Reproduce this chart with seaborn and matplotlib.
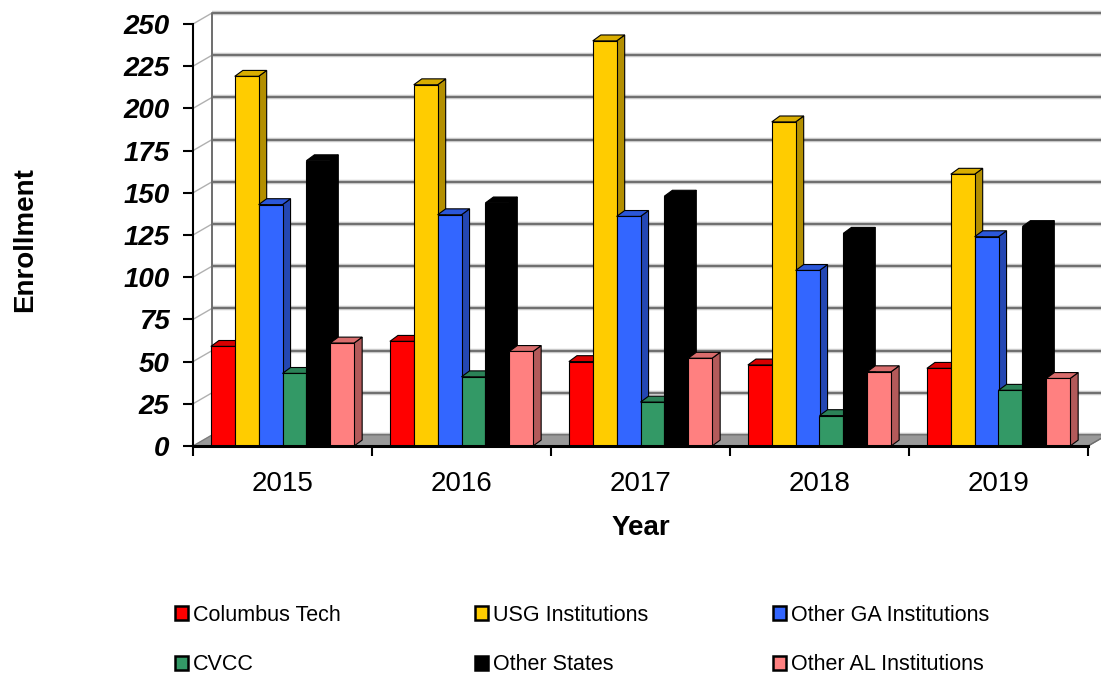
import numpy as np
import pandas as pd
import matplotlib
matplotlib.use('Agg')
import matplotlib.pyplot as plt
from matplotlib.patches import Polygon, Patch
from matplotlib.colors import to_rgb
import seaborn as sns

# Data
years = ['2015', '2016', '2017', '2018', '2019']
institutions = ['Columbus Tech', 'USG Institutions', 'Other GA Institutions',
                'CVCC', 'Other States', 'Other AL Institutions']
columbus_tech = [59, 62, 50, 48, 46]
usg_institutions = [219, 214, 240, 192, 161]
other_ga = [143, 137, 136, 104, 124]
cvcc = [43, 41, 26, 18, 33]
other_states = [169, 144, 148, 126, 130]
other_al = [61, 56, 52, 44, 40]
colors = ['#FF0000', '#FFCC00', '#3366FF', '#339966', '#000000', '#FF8080']
y_ticks = list(range(0, 251, 25))

series = [columbus_tech, usg_institutions, other_ga, cvcc, other_states, other_al]
df = pd.DataFrame({
    'Year': np.repeat([years], len(institutions), axis=0).ravel(),
    'Institution': np.repeat(institutions, len(years)),
    'Enrollment': np.concatenate(series),
})

sns.set_theme(style='white')
plt.rcParams['font.family'] = ['Liberation Sans', 'DejaVu Sans']
plt.rcParams['text.color'] = 'black'
plt.rcParams['xtick.color'] = 'black'
plt.rcParams['ytick.color'] = 'black'
plt.rcParams['axes.labelcolor'] = 'black'

fig = plt.figure(figsize=(11.01, 6.75), dpi=100)
ax = fig.add_axes([193 / 1101, 1 - 446 / 675, 895 / 1101, 422 / 675])

sns.barplot(data=df, x='Year', y='Enrollment', hue='Institution',
            order=years, hue_order=institutions, palette=colors,
            saturation=1, width=0.8, edgecolor='black', linewidth=0.8,
            legend=False, ax=ax)

ax.set_xlim(-0.5, 4.5)
ax.set_ylim(0, 250)

# 3D look: depth offsets (data units)
dx, dy = 0.045, 3.5        # bar depth
wdx, wdy = 0.106, 6.5      # back wall / floor depth

# floor
floor = Polygon([(-0.5, 0), (4.5, 0), (4.5 + wdx, wdy), (-0.5 + wdx, wdy)],
                closed=True, facecolor='#999999', edgecolor='#7a7a7a',
                lw=0.8, zorder=1, clip_on=False)
ax.add_patch(floor)

# back wall gridlines + side wall diagonals
for v in y_ticks:
    ax.plot([-0.5 + wdx, 4.5 + wdx], [v + wdy, v + wdy], color='#c8c8c8',
            lw=3.2, zorder=0.4, clip_on=False, solid_capstyle='butt')
    ax.plot([-0.5 + wdx, 4.5 + wdx], [v + wdy, v + wdy], color='#6e6e6e',
            lw=1.4, zorder=0.5, clip_on=False, solid_capstyle='butt')
    ax.plot([-0.5, -0.5 + wdx], [v, v + wdy], color='#b0b0b0', lw=1.0,
            zorder=0.5, clip_on=False)
ax.plot([-0.5 + wdx, -0.5 + wdx], [wdy, 250 + wdy], color='#6e6e6e', lw=1.4,
        zorder=0.5, clip_on=False)
ax.plot([4.5, 4.5 + wdx], [0, wdy], color='#6e6e6e', lw=1.0, zorder=1.5,
        clip_on=False)

# side and top faces for every bar, stacked left to right
bars = [(p, colors[i]) for i, cont in enumerate(ax.containers) for p in cont]
bars.sort(key=lambda b: b[0].get_x())
for rank, (p, c) in enumerate(bars):
    x0, w, h = p.get_x(), p.get_width(), p.get_height()
    rgb = np.array(to_rgb(c))
    side_c = rgb * 0.7
    top_c = rgb * 0.85
    z = 2 + rank * 0.01
    side = Polygon([(x0 + w, 0), (x0 + w + dx, dy), (x0 + w + dx, h + dy), (x0 + w, h)],
                   closed=True, facecolor=side_c, edgecolor='black', lw=0.8, zorder=z)
    top = Polygon([(x0, h), (x0 + dx, h + dy), (x0 + w + dx, h + dy), (x0 + w, h)],
                  closed=True, facecolor=top_c, edgecolor='black', lw=0.8, zorder=z)
    ax.add_patch(side)
    ax.add_patch(top)
    p.set_zorder(z + 0.005)

# axes styling
sns.despine(ax=ax, top=True, right=True)
ax.spines['left'].set_color('black')
ax.spines['left'].set_linewidth(1.5)
ax.spines['bottom'].set_color('black')
ax.spines['bottom'].set_linewidth(2.2)
ax.spines['left'].set_zorder(5)
ax.spines['bottom'].set_zorder(5)

ax.set_yticks(y_ticks)
ax.set_yticklabels([str(t) for t in y_ticks], fontsize=20, fontweight='bold',
                   fontstyle='italic')
ax.tick_params(axis='y', direction='out', length=7, width=1.5, color='black',
               left=True, pad=10)
ax.set_xticks(range(len(years)))
ax.set_xticklabels(years, fontsize=20)
ax.set_xticks(np.arange(-0.5, 5, 1), minor=True)
ax.tick_params(axis='x', which='major', length=0, pad=18)
ax.tick_params(axis='x', which='minor', direction='out', length=7, width=1.5,
               color='black', bottom=True)
ax.set_xlabel('')
ax.set_ylabel('')
ax.grid(False)

fig.text(641 / 1101, 1 - 528 / 675, 'Year', ha='center', va='center',
         fontsize=20, fontweight='bold')
fig.text(25 / 1101, 1 - 240 / 675, 'Enrollment', ha='center', va='center',
         rotation=90, fontsize=20, fontweight='bold')

# legend: three columns of two entries
col_x = [175, 475, 773]
for k in range(3):
    idx = [k, k + 3]
    handles = [Patch(facecolor=colors[i], edgecolor='black', lw=1.8) for i in idx]
    fig.legend(handles, [institutions[i] for i in idx], loc='center left',
               bbox_to_anchor=(col_x[k] / 1101, 1 - 640 / 675), frameon=False,
               fontsize=15.5, handlelength=0.6, handleheight=0.6,
               handletextpad=0.25, labelspacing=1.33, borderpad=0,
               borderaxespad=0)

fig.savefig('out.png', dpi=100)
